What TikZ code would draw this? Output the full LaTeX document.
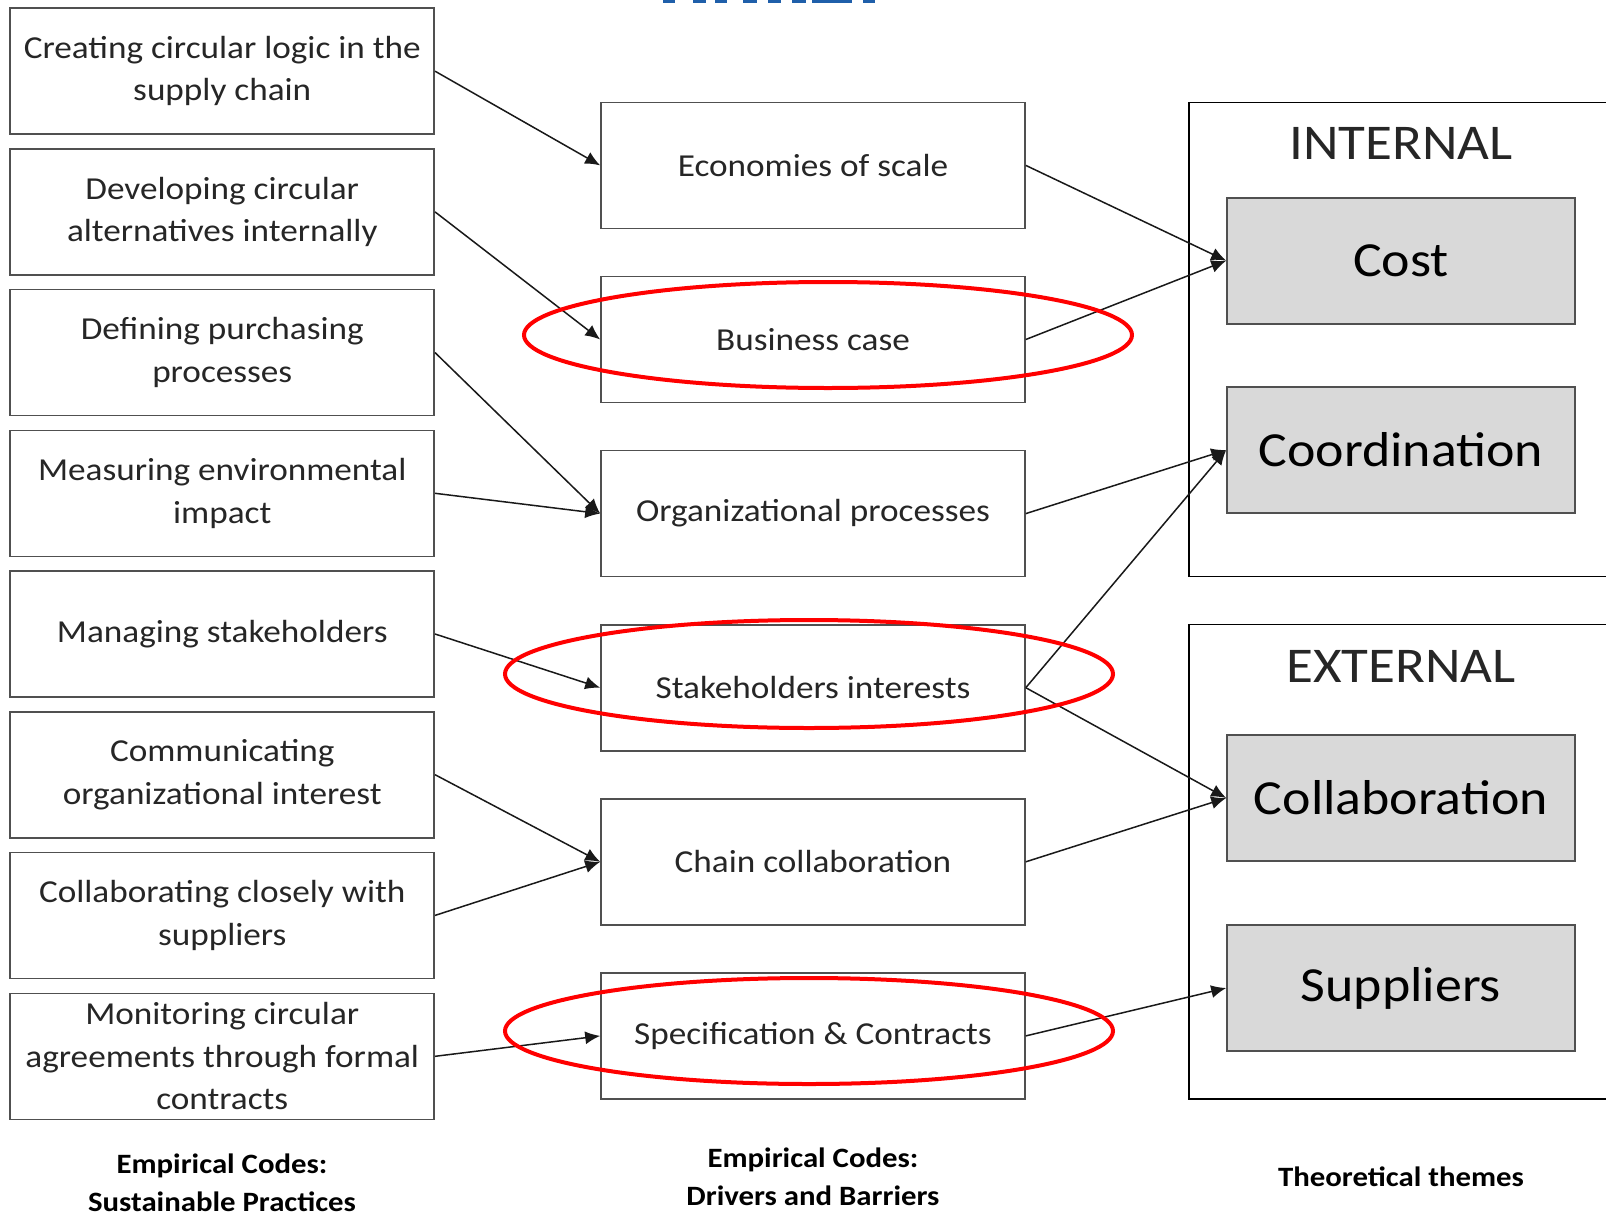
\documentclass[tikz,border=0pt]{standalone}
\usepackage{fontspec}
\setmainfont[FakeStretch=1.1]{Carlito}
\usetikzlibrary{arrows.meta}
\definecolor{boxline}{HTML}{505050}
\definecolor{txt}{HTML}{262626}
\definecolor{grayfill}{HTML}{D9D9D9}
\definecolor{topblue}{HTML}{1F5FAA}
\tikzset{
  lbox/.style={draw=boxline, line width=1.6pt, fill=white, minimum width=424pt, minimum height=126pt,
    align=center, text=txt, inner sep=0pt, font=\fontsize{32}{42.5}\selectfont},
  mbox/.style={lbox},
  gbox/.style={draw=boxline, line width=1.6pt, fill=grayfill, minimum width=348pt, minimum height=126pt,
    align=center, text=black, inner sep=0pt, font=\fontsize{49}{58}\selectfont},
  conn/.style={draw=black!90, line width=1.5pt, -{Latex[length=15pt,width=13pt]}},
  redring/.style={draw=red, line width=4pt},
  caption/.style={align=center, text=black, inner sep=1pt, font=\bfseries\fontsize{28}{37.5}\selectfont},
  frametitle/.style={text=txt, font=\fontsize{50}{60}\selectfont},
}
\begin{document}
\begin{tikzpicture}[x=1pt,y=-1pt]
\useasboundingbox (0,0) rectangle (1606,1218);
\clip (0,0) rectangle (1606,1218);
\fill[white] (0,0) rectangle (1606,1218);
% blue fragments at top
\foreach \a/\b in {663/675,693/706,715/727,743/757,768/781,792/806,812/852,863/875}
  \fill[topblue] (\a,0) rectangle (\b,2.5);
% right outer frames
\draw[black, line width=1.2pt] (1189,102.4) rectangle (1615,576.6);
\draw[black, line width=1.2pt] (1189,624.8) rectangle (1615,1099);
\node[frametitle] (int) at (1401,143) {INTERNAL};
\node[frametitle] (ext) at (1401,666) {EXTERNAL};
% left boxes
\node[lbox] (l1) at (222.25,71.2) {Creating circular logic in the\\supply chain};
\node[lbox] (l2) at (222.25,211.9) {Developing circular\\alternatives internally};
\node[lbox] (l3) at (222.25,352.6) {Defining purchasing\\processes};
\node[lbox] (l4) at (222.25,493.3) {Measuring environmental\\impact};
\node[lbox] (l5) at (222.25,634.0) {Managing stakeholders};
\node[lbox] (l6) at (222.25,774.7) {Communicating\\organizational interest};
\node[lbox] (l7) at (222.25,915.4) {Collaborating closely with\\suppliers};
\node[lbox] (l8) at (222.25,1056.3) {Monitoring circular\\agreements through formal\\contracts};
% middle boxes
\node[mbox] (m1) at (813,165.4) {Economies of scale};
\node[mbox] (m2) at (813,339.5) {Business case};
\node[mbox] (m3) at (813,513.6) {Organizational processes};
\node[mbox] (m4) at (813,687.7) {Stakeholders interests};
\node[mbox] (m5) at (813,861.8) {Chain collaboration};
\node[mbox] (m6) at (813,1035.9) {Specification \& Contracts};
% gray boxes
\node[gbox] (r1) at (1401,260.7) {Cost};
\node[gbox] (r2) at (1401,450) {Coordination};
\node[gbox] (r3) at (1401,798) {Collaboration};
\node[gbox] (r4) at (1401,988) {Suppliers};
% connectors left -> middle
\draw[conn] (l1.east) -- (m1.west);
\draw[conn] (l2.east) -- (m2.west);
\draw[conn] (l3.east) -- (m3.west);
\draw[conn] (l4.east) -- (m3.west);
\draw[conn] (l5.east) -- (m4.west);
\draw[conn] (l6.east) -- (m5.west);
\draw[conn] (l7.east) -- (m5.west);
\draw[conn] (l8.east) -- (m6.west);
% connectors middle -> right
\draw[conn] (m1.east) -- (r1.west);
\draw[conn] (m2.east) -- (r1.west);
\draw[conn] (m3.east) -- (r2.west);
\draw[conn] (m4.east) -- (r2.west);
\draw[conn] (m4.east) -- (r3.west);
\draw[conn] (m5.east) -- (r3.west);
\draw[conn] (m6.east) -- (r4.west);
% red rings
\draw[redring] (828,335) ellipse [x radius=304, y radius=53];
\draw[redring] (809,674) ellipse [x radius=304, y radius=54];
\draw[redring] (809,1031) ellipse [x radius=304, y radius=53];
% captions
\node[caption] (c1) at (222,1183) {Empirical Codes:\\Sustainable Practices};
\node[caption] (c2) at (813,1177) {Empirical Codes:\\Drivers and Barriers};
\node[caption] (c3) at (1401,1177) {Theoretical themes};
\end{tikzpicture}
\end{document}
